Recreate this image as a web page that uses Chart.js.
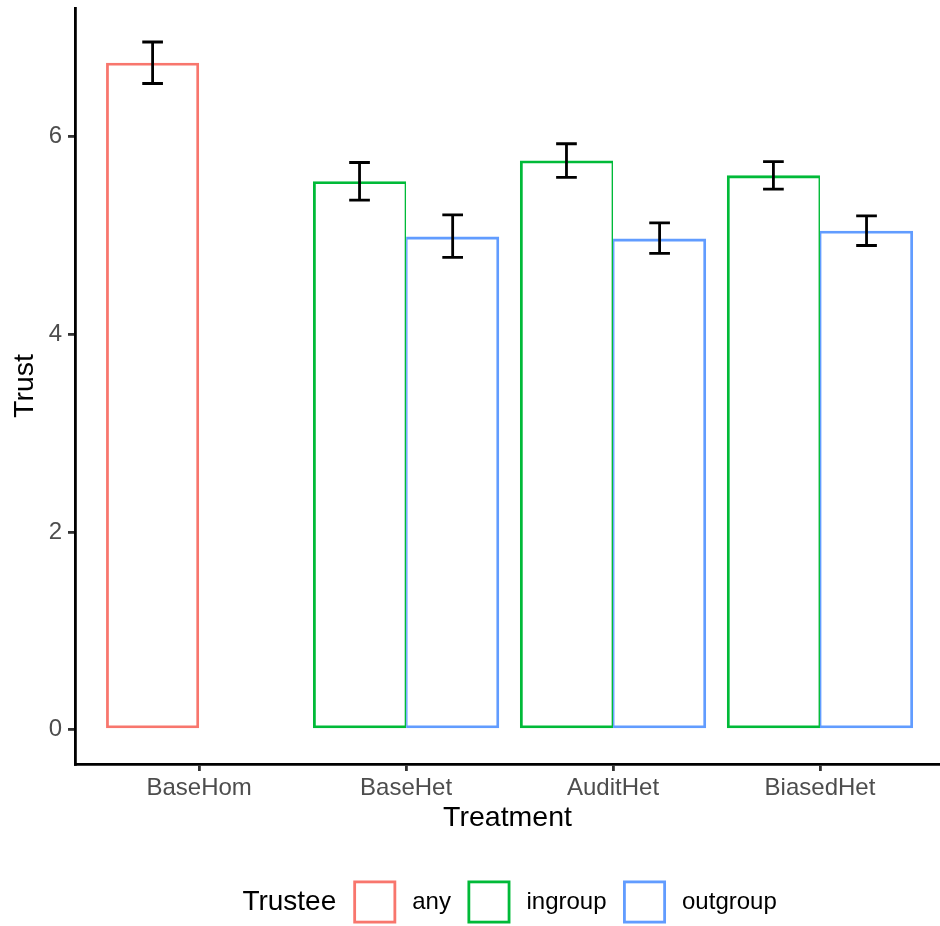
<!DOCTYPE html>
<html>
<head>
<meta charset="utf-8">
<title>Trust by treatment</title>
<script src="https://cdn.jsdelivr.net/npm/chart.js@4.4.1/dist/chart.umd.min.js"></script>
<style>
	html, body { margin: 0; padding: 0; background: #ffffff; }
	#wrap { width: 940px; height: 926px; }
</style>
</head>
<body>
<div id="wrap"><canvas id="trustChart" width="940" height="926"></canvas></div>
<script>
const treatments = ["BaseHom", "BaseHet", "AuditHet", "BiasedHet"]
const trustees = ["any", "ingroup", "outgroup"]
const trusteeColors = ["#F8766D", "#00BA38", "#619CFF"]

// mean trust, null where that trustee type is not in the treatment
const anyMean = [6.75, null, null, null]
const ingroupMean = [null, 5.55, 5.76, 5.61]
const outgroupMean = [null, 4.99, 4.97, 5.05]

// error bar ends
const anyLow = [6.54, null, null, null]
const anyHigh = [6.96, null, null, null]
const ingroupLow = [null, 5.36, 5.59, 5.47]
const ingroupHigh = [null, 5.74, 5.93, 5.75]
const outgroupLow = [null, 4.78, 4.82, 4.90]
const outgroupHigh = [null, 5.21, 5.13, 5.20]

const yTicks = [0, 2, 4, 6]

const FONT = "'Liberation Sans', Arial, Helvetica, sans-serif"
const ERROR_WIDTH = 0.1
const LINE = 2.8

function makeDataset(label, color, means, lows, highs, stack, borderWidth) {
	const idx = means.map((_, i) => i).filter((i) => means[i] !== null)
	return {
		label,
		data: idx.map((i) => ({ x: i + 1, y: means[i] })),
		errLow: idx.map((i) => lows[i]),
		errHigh: idx.map((i) => highs[i]),
		stack,
		borderColor: color,
		backgroundColor: "rgba(255,255,255,0)",
		borderWidth,
		borderSkipped: false,
		categoryPercentage: 0.9,
		barPercentage: 1.0,
	}
}

const errorBars = {
	id: "errorBars",
	afterDatasetsDraw(chart) {
		const { ctx } = chart
		const x = chart.scales.x
		const y = chart.scales.y
		const half = (x.getPixelForValue(1 + ERROR_WIDTH / 2) - x.getPixelForValue(1))
		ctx.save()
		ctx.strokeStyle = "#000000"
		ctx.lineWidth = LINE
		chart.data.datasets.forEach((ds, i) => {
			const meta = chart.getDatasetMeta(i)
			meta.data.forEach((bar, j) => {
				const top = y.getPixelForValue(ds.errHigh[j])
				const bottom = y.getPixelForValue(ds.errLow[j])
				ctx.beginPath()
				ctx.moveTo(bar.x, top)
				ctx.lineTo(bar.x, bottom)
				ctx.moveTo(bar.x - half, top)
				ctx.lineTo(bar.x + half, top)
				ctx.moveTo(bar.x - half, bottom)
				ctx.lineTo(bar.x + half, bottom)
				ctx.stroke()
			})
		})
		ctx.restore()
	},
}

// ggplot-style legend: title inline on the left, outlined keys
const inlineLegend = {
	id: "inlineLegend",
	afterDraw(chart) {
		const { ctx } = chart
		const x = chart.scales.x
		const cy = 902
		const box = 43
		const titleFont = `28px ${FONT}`
		const itemFont = `24px ${FONT}`
		ctx.save()
		ctx.font = titleFont
		const titleW = ctx.measureText("Trustee").width
		ctx.font = itemFont
		const items = chart.data.datasets.map((ds) => ({ text: ds.label, color: ds.borderColor, w: ctx.measureText(ds.label).width }))
		let total = titleW + 17
		items.forEach((it, k) => {
			total += box + 16 + it.w + (k < items.length - 1 ? 16.5 : 0)
		})
		const center = (x.getPixelForValue(0.4) + x.getPixelForValue(4.6)) / 2
		let px = center - total / 2
		ctx.textBaseline = "middle"
		ctx.textAlign = "left"
		ctx.fillStyle = "#000000"
		ctx.font = titleFont
		ctx.fillText("Trustee", px, cy)
		px += titleW + 17
		ctx.font = itemFont
		items.forEach((it) => {
			ctx.strokeStyle = it.color
			ctx.lineWidth = LINE
			ctx.strokeRect(px + LINE / 2, cy - box / 2 + LINE / 2, box - LINE, box - LINE)
			px += box + 16
			ctx.fillStyle = "#000000"
			ctx.fillText(it.text, px, cy)
			px += it.w + 16.5
		})
		ctx.restore()
	},
}

const axisGrid = { drawOnChartArea: false, drawTicks: true, tickLength: 7, color: "#333333", lineWidth: LINE, offset: false }
const axisBorder = { display: true, color: "#000000", width: LINE }

new Chart(document.getElementById("trustChart"), {
	type: "bar",
	data: {
		datasets: [
			makeDataset(trustees[0], trusteeColors[0], anyMean, anyLow, anyHigh, "left", LINE),
			makeDataset(trustees[1], trusteeColors[1], ingroupMean, ingroupLow, ingroupHigh, "left", { top: LINE, left: LINE, bottom: LINE, right: LINE / 2 }),
			makeDataset(trustees[2], trusteeColors[2], outgroupMean, outgroupLow, outgroupHigh, "right", { top: LINE, left: LINE / 2, bottom: LINE, right: LINE }),
		],
	},
	options: {
		responsive: false,
		animation: false,
		layout: { padding: { top: 8, bottom: 91, left: 0, right: 0 } },
		plugins: {
			legend: { display: false },
			tooltip: { enabled: false },
		},
		scales: {
			x: {
				type: "linear",
				offset: false,
				min: 0.4,
				max: 4.58,
				afterBuildTicks: (s) => { s.ticks = treatments.map((_, i) => ({ value: i + 1 })) },
				afterFit: (s) => { s.height = 71; s.paddingLeft = 0; s.paddingRight = 0 },
				ticks: {
					callback: (v) => treatments[Math.round(v) - 1],
					color: "#4D4D4D",
					font: { family: FONT, size: 24 },
					padding: 3,
					maxRotation: 0,
					autoSkip: false,
				},
				grid: axisGrid,
				border: axisBorder,
				title: { display: true, text: "Treatment", color: "#000000", font: { family: FONT, size: 28.5 }, padding: 0 },
			},
			y: {
				min: -0.348,
				max: 7.304,
				afterBuildTicks: (s) => { s.ticks = yTicks.map((v) => ({ value: v })) },
				afterFit: (s) => { s.width = 75; s.paddingTop = 0; s.paddingBottom = 0 },
				ticks: { color: "#4D4D4D", font: { family: FONT, size: 24 }, padding: 6 },
				grid: axisGrid,
				border: axisBorder,
				title: { display: true, text: "Trust", color: "#000000", font: { family: FONT, size: 28.5 }, padding: { top: 8, bottom: 0 } },
			},
		},
	},
	plugins: [errorBars, inlineLegend],
})
</script>
</body>
</html>
